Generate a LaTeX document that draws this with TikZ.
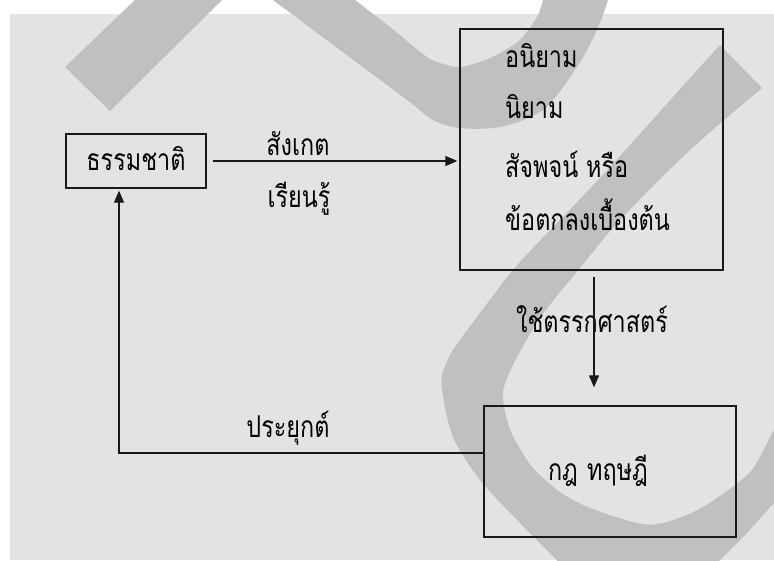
\documentclass[tikz,border=0pt]{standalone}
\usepackage{fontspec}
\newfontfamily\thaifont[Script=Thai]{Loma}
\usetikzlibrary{arrows.meta}
\definecolor{bggray}{RGB}{227,227,227}
\definecolor{wm}{RGB}{192,192,192}
\definecolor{ink}{RGB}{25,25,25}
\newcommand{\thtxt}[1]{\scalebox{0.78}[1]{\thaifont #1}}
\begin{document}
\begin{tikzpicture}[x=1pt,y=-1pt,
  box/.style={draw=ink,line width=1.3pt,inner sep=0pt},
  txt/.style={font=\fontsize{30}{34}\selectfont,inner sep=0pt,text=black,anchor=base},
  arr/.style={draw=ink,line width=1.3pt,-{Triangle[length=12pt,width=10pt]}}]
\useasboundingbox (0,0) rectangle (774,560);
\fill[white] (0,0) rectangle (774,560);
\fill[bggray] (10,14) rectangle (774,560);
% watermark
\begin{scope}
\clip (0,0) rectangle (774,560);
\fill[wm] (65,67) -- (110,111) -- (222,0) -- (248,-10) -- (273,0)
  -- plot[smooth,tension=0.5] coordinates {(273,0) (340,50) (407,100) (433,120) (460,128) (500,127) (543,110) (577,67) (597,30) (608,0) (615,-20)}
  -- (540,-20)
  -- plot[smooth,tension=0.5] coordinates {(543,0) (537,17) (520,40) (500,53) (480,62) (460,67) (447,65) (427,57) (390,27) (355,0) (330,-20)}
  -- (160,-25) -- (135,0) -- cycle;
\fill[wm] (720,45) -- (762,88)
  -- plot[smooth,tension=0.5] coordinates {(762,88) (690,150) (620,220) (580,268) (540,318) (513,365) (503,392) (507,420) (515,440) (533,468) (560,492) (590,508) (637,523) (663,523) (703,507) (750,472) (774,430) (790,410)}
  -- (800,410) -- (800,500)
  -- plot[smooth,tension=0.5] coordinates {(790,490) (774,503) (747,533) (720,560) (705,575)}
  -- (560,575)
  -- plot[smooth,tension=0.5] coordinates {(557,560) (547,550) (520,523) (480,480) (453,437) (442,390) (443,372) (453,350) (480,313) (520,262) (600,178) (690,78)}
  -- cycle;
\end{scope}
% boxes
\node[box,minimum width=140pt,minimum height=54pt] (nature) at (136,161) {};
\node[box,minimum width=263pt,minimum height=241pt] (concepts) at (591.5,149.5) {};
\node[box,minimum width=252pt,minimum height=131pt] (law) at (610,471.5) {};
% texts
\node[txt] (tnature) at (136,170) {\thtxt{ธรรมชาติ}};
\node[txt,anchor=base west] (c1) at (505,67) {\thtxt{อนิยาม}};
\node[txt,anchor=base west] (c2) at (505,118) {\thtxt{นิยาม}};
\node[txt,anchor=base west] (c3) at (505,177) {\thtxt{สัจพจน์ หรือ}};
\node[txt,anchor=base west] (c4) at (505,230) {\thtxt{ข้อตกลงเบื้องต้น}};
\node[txt] (tlaw) at (598,480) {\thtxt{กฎ\hspace{12pt}ทฤษฎี}};
\node[txt] (obs) at (298,155) {\thtxt{สังเกต}};
\node[txt] (learn) at (299,207) {\thtxt{เรียนรู้}};
\node[txt] (logic) at (592,332) {\thtxt{ใช้ตรรกศาสตร์}};
\node[txt] (apply) at (288,437) {\thtxt{ประยุกต์}};
% connectors
\draw[arr,shorten <=6pt,shorten >=2pt] (nature.east) -- (nature.east -| concepts.west);
\draw[arr,shorten <=6pt,shorten >=18pt] ([xshift=2.5pt]concepts.south) -- ([xshift=2.5pt]concepts.south |- law.north);
\draw[arr,shorten >=2pt] ([yshift=18.5pt]law.west) -| ([xshift=-17pt]nature.south);
\end{tikzpicture}
\end{document}
